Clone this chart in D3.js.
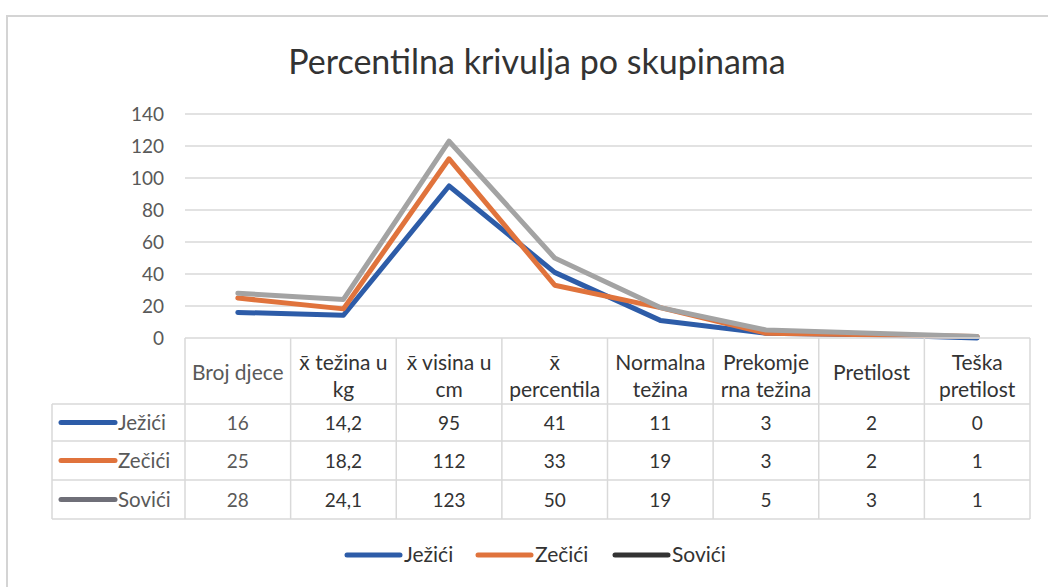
<!DOCTYPE html>
<html lang="hr">
<head>
    <meta charset="UTF-8">
    <title>Percentilna krivulja po skupinama</title>
    <style>
        body { margin: 0; background: #fff; }
        svg text { font-family: Lato, "Noto Sans", sans-serif; }
    </style>
</head>
<body>
    <svg id="chart" width="1048" height="587"></svg>
    <script src="https://d3js.org/d3.v7.min.js"></script>
    <script>
        // categories (header rows of the data table)
        var categories = [
            ["Broj djece"],
            ["x\u0304 težina u", "kg"],
            ["x\u0304 visina u", "cm"],
            ["x\u0304", "percentila"],
            ["Normalna", "težina"],
            ["Prekomje", "rna težina"],
            ["Pretilost"],
            ["Teška", "pretilost"]
        ];
        var seriesNames = ["Ježići", "Zečići", "Sovići"];
        var jezici = [16, 14.2, 95, 41, 11, 3, 2, 0];
        var zecici = [25, 18.2, 112, 33, 19, 3, 2, 1];
        var sovici = [28, 24.1, 123, 50, 19, 5, 3, 1];
        var yTicks = [0, 20, 40, 60, 80, 100, 120, 140];

        var seriesValues = [jezici, zecici, sovici];
        var colors = ["#2d5ca8", "#e0733c", "#a3a3a3"];
        var legendColors = ["#2d5ca8", "#e0733c", "#333333"];

        var svg = d3.select("#chart");

        // outer frame
        svg.append("path")
           .attr("d", "M7,587V16H1048")
           .attr("fill", "none")
           .attr("stroke", "#d4d4d4")
           .attr("stroke-width", 2);

        svg.append("text")
           .attr("x", 537)
           .attr("y", 74)
           .attr("text-anchor", "middle")
           .attr("font-size", 34)
           .attr("fill", "#333")
           .text("Percentilna krivulja po skupinama");

        var x = d3.scaleBand()
                  .domain(d3.range(categories.length))
                  .range([185, 1030]);
        var y = d3.scaleLinear()
                  .domain([0, 140])
                  .range([338, 114]);

        // gridlines + y labels
        svg.append("g")
           .selectAll("line")
           .data(yTicks.filter(d => d > 0))
           .enter()
           .append("line")
           .attr("x1", 185).attr("x2", 1032)
           .attr("y1", d => y(d)).attr("y2", d => y(d))
           .attr("stroke", "#d9d9d9")
           .attr("stroke-width", 1.5);

        svg.append("g")
           .selectAll("text")
           .data(yTicks)
           .enter()
           .append("text")
           .attr("x", 164)
           .attr("y", d => y(d) + 7)
           .attr("text-anchor", "end")
           .attr("font-size", 19)
           .attr("fill", "#595959")
           .text(d => d);

        // lines
        var line = d3.line()
                     .x((d, i) => x(i) + x.bandwidth() / 2)
                     .y(d => y(d));
        svg.append("g")
           .selectAll("path")
           .data(seriesValues)
           .enter()
           .append("path")
           .attr("d", line)
           .attr("fill", "none")
           .attr("stroke", (d, i) => colors[i])
           .attr("stroke-width", 5)
           .attr("stroke-linecap", "round")
           .attr("stroke-linejoin", "round");

        // data table
        var rowTops = [338, 404, 441, 480, 519];
        var table = svg.append("g");
        var gridColor = "#d9d9d9";

        // horizontal rules
        table.selectAll("line.h")
             .data(rowTops)
             .enter()
             .append("line")
             .attr("class", "h")
             .attr("x1", (d, i) => i === 0 ? 185 : 52)
             .attr("x2", 1030)
             .attr("y1", d => d).attr("y2", d => d)
             .attr("stroke", gridColor)
             .attr("stroke-width", 1.5);

        // vertical rules
        var colEdges = d3.range(categories.length).map(i => x(i)).concat([1030]);
        table.selectAll("line.v")
             .data(colEdges)
             .enter()
             .append("line")
             .attr("class", "v")
             .attr("x1", d => d).attr("x2", d => d)
             .attr("y1", 338).attr("y2", 519)
             .attr("stroke", gridColor)
             .attr("stroke-width", 1.5);
        table.append("line")
             .attr("x1", 52).attr("x2", 52)
             .attr("y1", 404).attr("y2", 519)
             .attr("stroke", gridColor)
             .attr("stroke-width", 1.5);

        // header text
        categories.forEach((lines, i) => {
            var t = table.append("text")
                         .attr("text-anchor", "middle")
                         .attr("font-size", 21)
                         .attr("fill", i === 0 ? "#595959" : "#333");
            var cy = lines.length === 1 ? 380 : 370;
            lines.forEach((s, j) => {
                t.append("tspan")
                 .attr("x", x(i) + x.bandwidth() / 2)
                 .attr("y", cy + j * 27)
                 .text(s);
            });
        });

        // data rows
        seriesValues.forEach((vals, r) => {
            var cy = (rowTops[r + 1] + rowTops[r + 2]) / 2;
            table.append("line")
                 .attr("x1", 61).attr("x2", 115)
                 .attr("y1", cy).attr("y2", cy)
                 .attr("stroke", colors[r] === "#a3a3a3" ? "#6f6f78" : colors[r])
                 .attr("stroke-width", 5)
                 .attr("stroke-linecap", "round");
            table.append("text")
                 .attr("x", 118)
                 .attr("y", cy + 7)
                 .attr("font-size", 20.5)
                 .attr("fill", "#595959")
                 .text(seriesNames[r]);
            table.selectAll(null)
                 .data(vals)
                 .enter()
                 .append("text")
                 .attr("x", (d, i) => x(i) + x.bandwidth() / 2)
                 .attr("y", cy + 7)
                 .attr("text-anchor", "middle")
                 .attr("font-size", 19)
                 .attr("fill", (d, i) => i === 0 ? "#595959" : "#333")
                 .text(d => String(d).replace(".", ","));
        });

        // legend
        var legendX = [347, 478, 615];
        var legend = svg.append("g");
        seriesNames.forEach((name, i) => {
            legend.append("line")
                  .attr("x1", legendX[i]).attr("x2", legendX[i] + 53)
                  .attr("y1", 555).attr("y2", 555)
                  .attr("stroke", legendColors[i])
                  .attr("stroke-width", 5)
                  .attr("stroke-linecap", "round");
            legend.append("text")
                  .attr("x", legendX[i] + 57)
                  .attr("y", 562)
                  .attr("font-size", 21)
                  .attr("fill", "#333")
                  .text(name);
        });
    </script>
</body>
</html>
